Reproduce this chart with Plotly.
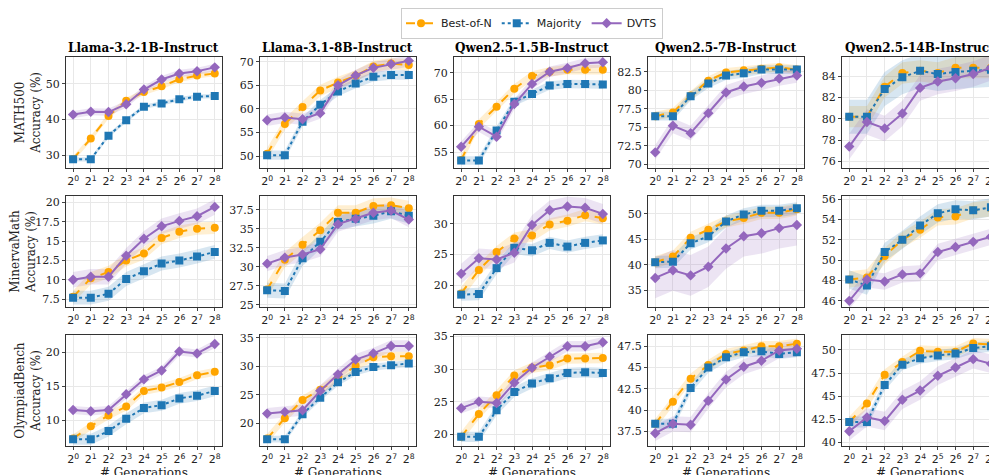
import plotly.graph_objects as go
from plotly.subplots import make_subplots

models = ["Llama-3.2-1B-Instruct", "Llama-3.1-8B-Instruct", "Qwen2.5-1.5B-Instruct", "Qwen2.5-7B-Instruct", "Qwen2.5-14B-Instruct"]
datasets = ["MATH500", "MinervaMath", "OlympiadBench"]
exponents = [0, 1, 2, 3, 4, 5, 6, 7, 8]
tick_labels = ["2<sup>%d</sup>" % k for k in exponents]

# [row][col] -> values
bon = [
    [[29,34.7,41,45.3,47.7,49.3,51.3,52.3,52.9],[50.5,56.8,60.4,63.9,65.6,67,69,69.6,69.3],[53.5,60.3,63.6,67,69.4,70.2,70.6,70.6,70.6],[76.5,77,79.3,81.3,82.4,82.7,82.9,83.1,82.8],[80.2,80.2,83,84.3,84.5,84.3,84.8,84.8,84.8]],
    [[7.8,10.2,11,12.5,13.4,15.4,16.2,16.6,16.7],[27,30.9,32.9,34.8,37.1,37.1,38,38.1,37.7],[18.7,22.5,25.4,27.6,28.1,29.9,30.5,31.4,30.9],[40.5,41.6,45.3,46.9,48.5,49.2,50.2,50.2,50.9],[48.1,48.3,50.4,52,53,54.2,54.3,54.9,55.1]],
    [[7.3,9.1,10.7,12,14.3,14.8,15.6,16.6,17.1],[17.3,20.9,24.1,25.9,27.9,30.1,31.6,31.8,31.8],[19.6,23.1,26,29,30.2,30.6,31.6,31.6,31.7],[38.4,41,43.7,45.3,46.6,47,47.5,47.5,47.8],[42.2,44.2,47.3,48.7,49.9,49.8,49.8,50.7,50.6]],
]
maj = [
    [[28.9,28.9,35.5,39.8,43.6,44.5,45.7,46.4,46.6],[50.2,50.2,57.3,60.9,63.7,65.4,66.8,67.2,67.2],[53.4,53.4,59.1,64.5,66,67.6,67.9,67.9,67.8],[76.5,76.5,79.2,80.9,82,82.3,82.8,82.8,82.8],[80.2,80.2,82.8,83.9,84.5,84.2,84.4,84.5,84.6]],
    [[7.7,7.7,8.2,10.1,11.1,12.1,12.5,13,13.6],[26.9,26.8,31.1,33.3,35.9,36.3,36.7,37.3,36.7],[18.5,18.6,22.8,26.1,25.7,26.9,26.3,26.9,27.3],[40.5,40.6,44.2,45.6,48.5,49.9,50.6,50.6,51.1],[48.1,47.5,50.8,52,53.4,54.6,55,54.9,55.2]],
    [[7.2,7.2,8.4,10.2,11.8,12.2,13.2,13.6,14.3],[17.2,17.2,21.6,24.5,27.2,29,29.9,30.2,30.5],[19.6,19.6,23.7,26.5,27.8,28.6,29.4,29.5,29.4],[38.4,38.4,42.6,45,46.2,46.8,46.9,46.6,46.8],[42.2,42.2,46.2,48.4,49.1,49.4,49.6,50.2,50.4]],
]
dvts = [
    [[41.4,42.2,42.1,44.3,48.4,51.2,52.9,53.5,54.6],[57.6,58.2,57.8,59.1,65,67.1,68.7,69.5,70.2],[56,59.8,57.9,64.1,67.9,70.2,70.9,71.8,72],[71.6,75.2,74.2,76.9,79.7,80.5,81,81.6,82],[77.4,79.7,79.1,80.5,82.9,83.5,83.8,84.2,84.8]],
    [[10,10.4,10.4,13.1,15.3,16.9,17.6,18.2,19.4],[30.4,31.2,31.6,32.3,35.6,36.3,37.1,37.4,36.2],[21.9,24.4,24.2,25.3,29.8,32.2,32.8,32.6,31.6],[37.4,38.9,37.9,39.6,43.2,45.6,46.2,47.2,47.8],[46,48.1,47.9,48.6,48.7,50.8,51.3,51.8,52.3]],
    [[11.5,11.3,11.5,13.8,16,17.3,20.1,19.8,21.2],[21.7,22,22.3,25.7,28.6,31.2,32.3,33.6,33.6],[24,25,24.8,27.9,30.2,31.9,33.5,33.5,34.1],[37.3,38.4,38.3,41.1,43.6,45.1,45.8,47,47.2],[41.2,42.7,42.3,44.6,45.6,47.2,48.1,49,48.5]],
]
# band half-widths (bon, maj, dvts)
spread = [
    [(0.8,0.6,1.0),(1.2,1.0,1.2),(0.9,0.8,1.0),(0.6,0.6,1.0),(1.0,1.6,1.2)],
    [(0.8,0.9,1.0),(1.0,1.0,1.0),(1.0,1.0,1.6),(1.2,1.2,4.0),(0.8,0.9,0.8)],
    [(0.6,0.8,0.6),(0.8,0.6,1.0),(0.8,0.8,0.8),(0.6,0.6,0.9),(0.6,0.6,1.0)],
]
y_ranges = [
    [(26.5,57.5),(47.5,71),(52,73),(69.5,84.5),(75.4,85.8)],
    [(6.5,20.8),(24.7,39.3),(16.5,34.5),(31.7,53.5),(45.4,56.3)],
    [(6.2,22.5),(16,35.5),(18.2,35.2),(35.8,48.8),(39.6,51.6)],
]
y_dticks = [[10,5,5,2.5,2],[2.5,2.5,5,5,2],[5,5,5,2.5,2.5]]

series = [
    ("Best-of-N", bon, "#FFA500", "dash", "circle", 0, "rgba(255,165,0,0.18)"),
    ("Majority", maj, "#1f77b4", "dot", "square", 1, "rgba(31,119,180,0.18)"),
    ("DVTS", dvts, "#9467bd", "solid", "diamond", 2, "rgba(148,103,189,0.18)"),
]

fig = make_subplots(rows=3, cols=5, horizontal_spacing=0.041, vertical_spacing=0.0725,
                    subplot_titles=models)
for r in range(3):
    for c in range(5):
        for name, data, col, dash, sym, si, fillc in series:
            ys = data[r][c]
            s = spread[r][c][si]
            up = [v + s for v in ys]
            lo = [v - s for v in ys]
            fig.add_trace(go.Scatter(x=exponents + exponents[::-1], y=up + lo[::-1], fill="toself",
                                     mode="lines", fillcolor=fillc, line=dict(width=0), hoverinfo="skip",
                                     showlegend=False), row=r+1, col=c+1)
        for name, data, col, dash, sym, si, fillc in series:
            fig.add_trace(go.Scatter(x=exponents, y=data[r][c], name=name, mode="lines+markers",
                                     line=dict(color=col, dash=dash, width=2),
                                     marker=dict(symbol=sym, size=8, color=col),
                                     showlegend=(r == 0 and c == 0), legendgroup=name), row=r+1, col=c+1)
        fig.update_xaxes(row=r+1, col=c+1, tickvals=exponents, ticktext=tick_labels, range=[-0.4, 8.4],
                         tickfont=dict(family="DejaVu Sans", size=11),
                         title_text="# Generations" if r == 2 else None)
        fig.update_yaxes(row=r+1, col=c+1, range=list(y_ranges[r][c]), dtick=y_dticks[r][c],
                         title_text=(datasets[r] + "<br>Accuracy (%)") if c == 0 else None)

fig.update_xaxes(showline=True, linecolor="#333", linewidth=1.2, mirror=True, ticks="outside",
                 ticklen=3, gridcolor="#e8e8e8", zeroline=False, title_font=dict(size=12),
                 title_standoff=2, automargin=False)
fig.update_yaxes(showline=True, linecolor="#333", linewidth=1.2, mirror=True, ticks="outside",
                 ticklen=3, gridcolor="#e8e8e8", zeroline=False, tickfont=dict(size=11),
                 title_font=dict(size=12), title_standoff=2, automargin=False)
for a in fig.layout.annotations:
    a.font = dict(family="DejaVu Serif", size=12, color="black")
    a.text = "<b>" + a.text + "</b>"
fig.update_layout(width=997, height=475, template="plotly_white",
                  font=dict(family="DejaVu Serif", size=11, color="#222"),
                  margin=dict(l=58, r=7, t=49, b=37, autoexpand=False), plot_bgcolor="white",
                  legend=dict(orientation="h", x=0.5, xanchor="center", y=1.087, yanchor="middle",
                              bordercolor="#ccc", borderwidth=1, font=dict(family="DejaVu Sans", size=11)))
fig.write_html("out.html")
